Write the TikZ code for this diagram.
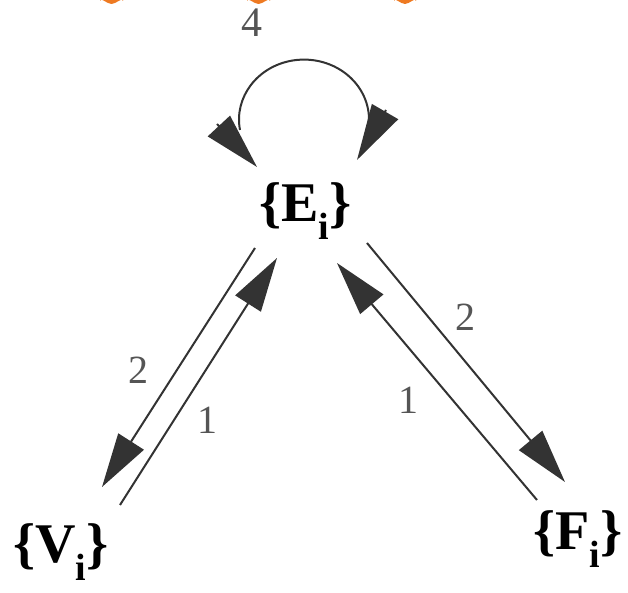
\documentclass[tikz,border=0pt]{standalone}
\usepackage{fontspec}
\setmainfont{Liberation Serif}
\usetikzlibrary{arrows.meta,calc}
\definecolor{ink}{HTML}{333333}
\definecolor{lab}{HTML}{555555}
\definecolor{blob}{HTML}{EE7A22}
\tikzset{
  setnode/.style={anchor=base west,inner sep=0pt,font=\fontsize{28}{30}\selectfont\bfseries},
  lbl/.style={inner sep=0pt,text=lab,font=\fontsize{20}{22}\selectfont},
  conn/.style={draw=ink,line width=1pt,-{Triangle[length=27pt,width=15pt]}},
  loopline/.style={draw=ink,line width=1pt},
  loophead/.style={draw=ink,line width=1pt,-{Triangle[length=28pt,width=15pt]}}
}
\newcommand{\setname}[1]{\{#1\raisebox{-9pt}{\fontsize{19}{20}\selectfont i}\}}
\begin{document}
\begin{tikzpicture}[x=0.5pt,y=-0.5pt]
\useasboundingbox (0,0) rectangle (628,593);
% clipped orange marks at top edge
\foreach \a/\m/\b in {100/111.5/123,247/258.5/270,394/405/416}{
  \fill[blob] (\a,0) -- (\a,1) to[out=90,in=180] (\m,4) to[out=0,in=90] (\b,1) -- (\b,0) -- cycle;
}
\node[setnode] (E) at (259,222) {\setname{E}};
\node[setnode] (V) at (13,563) {\setname{V}};
\node[setnode] (F) at (533,550) {\setname{F}};
% self loop
\draw[loopline] ($(E.base west)+(-19,-92)$) arc[start angle=170,end angle=367,x radius=65,y radius=60];
\draw[loophead] ($(E.base west)+(-42,-98)$) -- ($(E.base west)+(-2,-55)$);
\draw[loophead] ($(E.base west)+(127,-112)$) -- ($(E.base west)+(98,-62)$);
% E <-> V
\draw[conn] ($(E.base west)+(-4,26)$) -- ($(V.base west)+(89,-76)$);
\draw[conn] ($(V.base west)+(107,-58)$) -- ($(E.base west)+(18,36)$);
% E <-> F
\draw[conn] ($(E.base west)+(108,21)$) -- ($(F.base west)+(32,-68)$);
\draw[conn] ($(F.base west)+(4,-50)$) -- ($(E.base west)+(78,41)$);
% labels
\node[lbl,font=\fontsize{21}{22}\selectfont] (l4) at (252,23) {4};
\node[lbl] (l2a) at (138,370) {2};
\node[lbl] (l1a) at (207,420) {1};
\node[lbl] (l2b) at (465,317) {2};
\node[lbl] (l1b) at (408,400) {1};
\end{tikzpicture}
\end{document}
